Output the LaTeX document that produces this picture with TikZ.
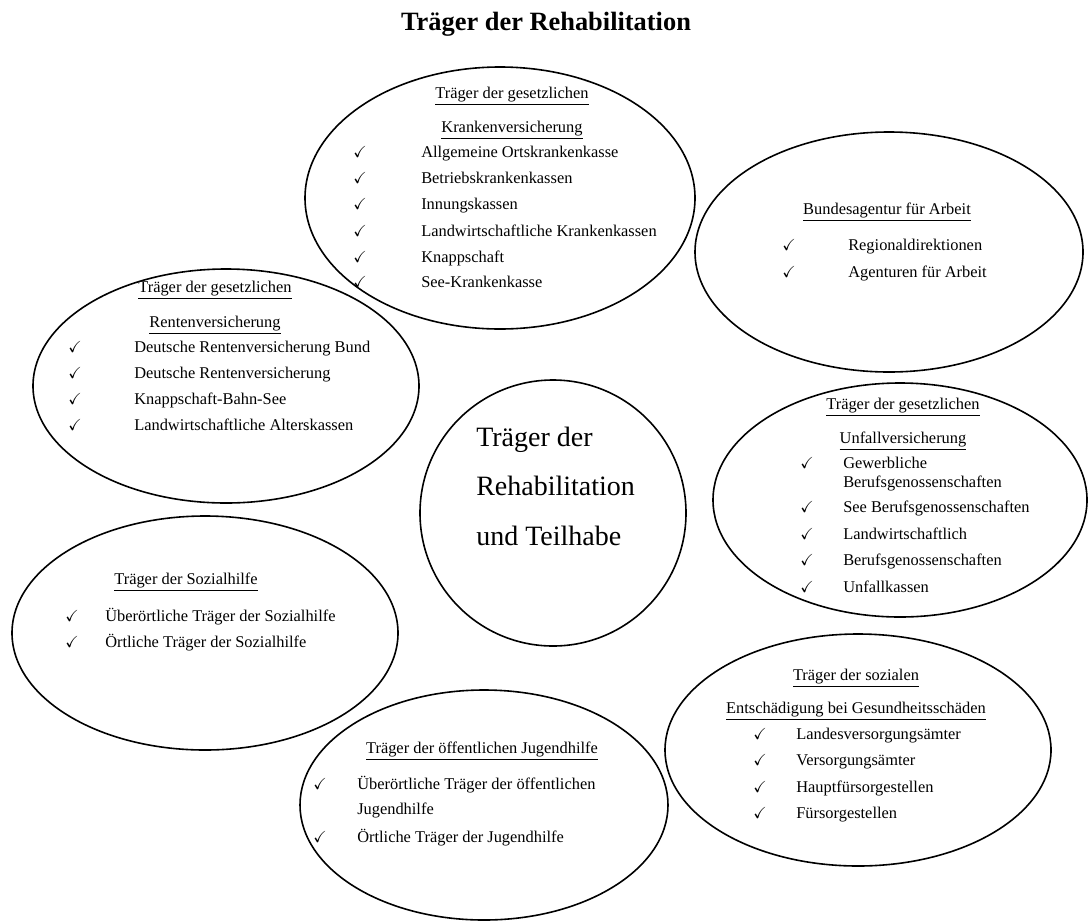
\documentclass[tikz,border=0pt]{standalone}
\usepackage{amssymb}
\usepackage{fontspec}
\setmainfont{Liberation Serif}
\usetikzlibrary{shapes.geometric}

\begin{document}
\begin{tikzpicture}[x=0.75pt, y=-0.75pt,
                    blob/.style 2 args={draw, ellipse, line width=1.2pt, inner sep=0pt,
                                        minimum width=#1*1.5pt, minimum height=#2*1.5pt},
                    head/.style={anchor=base, inner sep=0pt, font=\fontsize{12.3}{14}\selectfont},
                    item/.style={anchor=base west, inner sep=0pt, font=\fontsize{12.3}{14}\selectfont},
                    tick/.style={anchor=base, inner sep=0pt, font=\fontsize{12}{14}\selectfont},
                    big/.style={anchor=base west, inner sep=0pt, font=\fontsize{21}{24}\selectfont}]
      \useasboundingbox (0,0) rectangle (1088,922);

      \node[anchor=base, inner sep=0pt, font=\fontsize{19.8}{24}\selectfont\bfseries]
           (title) at (546,30) {Träger der Rehabilitation};

      % ellipses
      \node[blob={195}{131}] (kv) at (500,198) {};
      \node[blob={194}{120}] (ba) at (889,252) {};
      \node[blob={193}{117}] (rv) at (226,386) {};
      \node[blob={133}{133}] (rh) at (553,513) {};
      \node[blob={187}{117}] (uv) at (900,500) {};
      \node[blob={193}{117}] (sh) at (205,633) {};
      \node[blob={184}{115}] (jh) at (484,805) {};
      \node[blob={193}{116}] (ge) at (858,750) {};

      % Krankenversicherung
      \node[head] (kvh1) at (512,98) {\underline{Träger der gesetzlichen}};
      \node[head] (kvh2) at (512,132) {\underline{Krankenversicherung}};
      \node[tick] (kvc1) at (360,157) {\checkmark};
      \node[item] (kv1) at (421,157) {Allgemeine Ortskrankenkasse};
      \node[tick] (kvc2) at (360,183) {\checkmark};
      \node[item] (kv2) at (421,183) {Betriebskrankenkassen};
      \node[tick] (kvc3) at (360,209) {\checkmark};
      \node[item] (kv3) at (421,209) {Innungskassen};
      \node[tick] (kvc4) at (360,236) {\checkmark};
      \node[item] (kv4) at (421,236) {Landwirtschaftliche Krankenkassen};
      \node[tick] (kvc5) at (360,262) {\checkmark};
      \node[item] (kv5) at (421,262) {Knappschaft};
      \node[tick] (kvc6) at (360,287) {\checkmark};
      \node[item] (kv6) at (421,287) {See-Krankenkasse};

      % Bundesagentur
      \node[head] (bah) at (887,214) {\underline{Bundesagentur für Arbeit}};
      \node[tick] (bac1) at (789,250) {\checkmark};
      \node[item] (ba1) at (848,250) {Regionaldirektionen};
      \node[tick] (bac2) at (789,277) {\checkmark};
      \node[item] (ba2) at (848,277) {Agenturen für Arbeit};

      % Rentenversicherung
      \node[head] (rvh1) at (215,292) {\underline{Träger der gesetzlichen}};
      \node[head] (rvh2) at (215,327) {\underline{Rentenversicherung}};
      \node[tick] (rvc1) at (75,352) {\checkmark};
      \node[item] (rv1) at (134,352) {Deutsche Rentenversicherung Bund};
      \node[tick] (rvc2) at (75,378) {\checkmark};
      \node[item] (rv2) at (134,378) {Deutsche Rentenversicherung};
      \node[tick] (rvc3) at (75,404) {\checkmark};
      \node[item] (rv3) at (134,404) {Knappschaft-Bahn-See};
      \node[tick] (rvc4) at (75,430) {\checkmark};
      \node[item] (rv4) at (134,430) {Landwirtschaftliche Alterskassen};

      % Mitte
      \node[big] (rh1) at (476,446) {Träger der};
      \node[big] (rh2) at (476,495) {Rehabilitation};
      \node[big] (rh3) at (476,545) {und Teilhabe};

      % Unfallversicherung
      \node[head] (uvh1) at (903,409) {\underline{Träger der gesetzlichen}};
      \node[head] (uvh2) at (903,443) {\underline{Unfallversicherung}};
      \node[tick] (uvc1) at (807,468) {\checkmark};
      \node[item] (uv1) at (843,468) {Gewerbliche};
      \node[item] (uv1b) at (843,487) {Berufsgenossenschaften};
      \node[tick] (uvc2) at (807,512) {\checkmark};
      \node[item] (uv2) at (843,512) {See Berufsgenossenschaften};
      \node[tick] (uvc3) at (807,539) {\checkmark};
      \node[item] (uv3) at (843,539) {Landwirtschaftlich};
      \node[tick] (uvc4) at (807,565) {\checkmark};
      \node[item] (uv4) at (843,565) {Berufsgenossenschaften};
      \node[tick] (uvc5) at (807,592) {\checkmark};
      \node[item] (uv5) at (843,592) {Unfallkassen};

      % Sozialhilfe
      \node[head] (shh) at (186,584) {\underline{Träger der Sozialhilfe}};
      \node[tick] (shc1) at (72,621) {\checkmark};
      \node[item] (sh1) at (105,621) {Überörtliche Träger der Sozialhilfe};
      \node[tick] (shc2) at (72,647) {\checkmark};
      \node[item] (sh2) at (105,647) {Örtliche Träger der Sozialhilfe};

      % Jugendhilfe
      \node[head] (jhh) at (482,753) {\underline{Träger der öffentlichen Jugendhilfe}};
      \node[tick] (jhc1) at (320,789) {\checkmark};
      \node[item] (jh1) at (357,789) {Überörtliche Träger der öffentlichen};
      \node[item] (jh1b) at (357,814) {Jugendhilfe};
      \node[tick] (jhc2) at (320,842) {\checkmark};
      \node[item] (jh2) at (357,842) {Örtliche Träger der Jugendhilfe};

      % Entschaedigung
      \node[head] (geh1) at (856,680) {\underline{Träger der sozialen}};
      \node[head] (geh2) at (856,713) {\underline{Entschädigung bei Gesundheitsschäden}};
      \node[tick] (gec1) at (760,739) {\checkmark};
      \node[item] (ge1) at (796,739) {Landesversorgungsämter};
      \node[tick] (gec2) at (760,765) {\checkmark};
      \node[item] (ge2) at (796,765) {Versorgungsämter};
      \node[tick] (gec3) at (760,792) {\checkmark};
      \node[item] (ge3) at (796,792) {Hauptfürsorgestellen};
      \node[tick] (gec4) at (760,818) {\checkmark};
      \node[item] (ge4) at (796,818) {Fürsorgestellen};
    \end{tikzpicture}
\end{document}
